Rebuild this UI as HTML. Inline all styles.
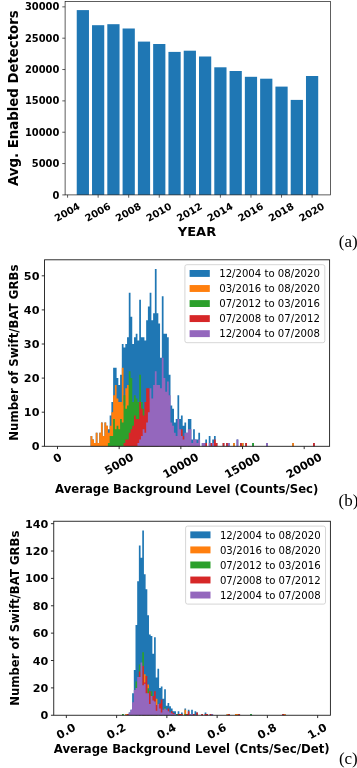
<!DOCTYPE html>
<html><head><meta charset="utf-8"><title>Figure</title>
<style>html,body{margin:0;padding:0;background:#fff}svg{display:block}</style></head>
<body>
<svg width="357" height="768" viewBox="0 0 357 768">
<rect width="357" height="768" fill="#fff"/>
<rect x="76.74" y="10.1" width="12.23" height="184.8" fill="#1f77b4"/>
<rect x="92.02" y="25.2" width="12.23" height="169.7" fill="#1f77b4"/>
<rect x="107.31" y="24.2" width="12.23" height="170.7" fill="#1f77b4"/>
<rect x="122.59" y="28.5" width="12.23" height="166.4" fill="#1f77b4"/>
<rect x="137.87" y="41.6" width="12.23" height="153.3" fill="#1f77b4"/>
<rect x="153.15" y="44" width="12.23" height="150.9" fill="#1f77b4"/>
<rect x="168.44" y="51.9" width="12.23" height="143" fill="#1f77b4"/>
<rect x="183.72" y="50.7" width="12.23" height="144.2" fill="#1f77b4"/>
<rect x="199" y="56.5" width="12.23" height="138.4" fill="#1f77b4"/>
<rect x="214.29" y="67.3" width="12.23" height="127.6" fill="#1f77b4"/>
<rect x="229.57" y="71" width="12.23" height="123.9" fill="#1f77b4"/>
<rect x="244.85" y="76.8" width="12.23" height="118.1" fill="#1f77b4"/>
<rect x="260.14" y="78.7" width="12.23" height="116.2" fill="#1f77b4"/>
<rect x="275.42" y="86.6" width="12.23" height="108.3" fill="#1f77b4"/>
<rect x="290.7" y="99.9" width="12.23" height="95" fill="#1f77b4"/>
<rect x="305.98" y="76" width="12.23" height="118.9" fill="#1f77b4"/>
<rect x="65.1" y="1.4" width="265.3" height="193.5" fill="none" stroke="#1a1a1a" stroke-width="0.7"/>
<line x1="62.3" y1="194.9" x2="65.1" y2="194.9" stroke="#1a1a1a" stroke-width="0.7"/>
<text x="59.3" y="198.51" text-anchor="end" font-family="DejaVu Sans, Liberation Sans, sans-serif" font-weight="bold" font-size="9.9">0</text>
<line x1="62.3" y1="163.56" x2="65.1" y2="163.56" stroke="#1a1a1a" stroke-width="0.7"/>
<text x="59.3" y="167.17" text-anchor="end" font-family="DejaVu Sans, Liberation Sans, sans-serif" font-weight="bold" font-size="9.9">5000</text>
<line x1="62.3" y1="132.22" x2="65.1" y2="132.22" stroke="#1a1a1a" stroke-width="0.7"/>
<text x="59.3" y="135.83" text-anchor="end" font-family="DejaVu Sans, Liberation Sans, sans-serif" font-weight="bold" font-size="9.9">10000</text>
<line x1="62.3" y1="100.88" x2="65.1" y2="100.88" stroke="#1a1a1a" stroke-width="0.7"/>
<text x="59.3" y="104.48" text-anchor="end" font-family="DejaVu Sans, Liberation Sans, sans-serif" font-weight="bold" font-size="9.9">15000</text>
<line x1="62.3" y1="69.53" x2="65.1" y2="69.53" stroke="#1a1a1a" stroke-width="0.7"/>
<text x="59.3" y="73.14" text-anchor="end" font-family="DejaVu Sans, Liberation Sans, sans-serif" font-weight="bold" font-size="9.9">20000</text>
<line x1="62.3" y1="38.19" x2="65.1" y2="38.19" stroke="#1a1a1a" stroke-width="0.7"/>
<text x="59.3" y="41.8" text-anchor="end" font-family="DejaVu Sans, Liberation Sans, sans-serif" font-weight="bold" font-size="9.9">25000</text>
<line x1="62.3" y1="6.85" x2="65.1" y2="6.85" stroke="#1a1a1a" stroke-width="0.7"/>
<text x="59.3" y="10.46" text-anchor="end" font-family="DejaVu Sans, Liberation Sans, sans-serif" font-weight="bold" font-size="9.9">30000</text>
<line x1="67.57" y1="194.9" x2="67.57" y2="197.7" stroke="#1a1a1a" stroke-width="0.7"/>
<text transform="translate(67.07,212.02) rotate(-30)" x="0" y="3.61" text-anchor="middle" font-family="DejaVu Sans, Liberation Sans, sans-serif" font-weight="bold" font-size="9.9">2004</text>
<line x1="98.14" y1="194.9" x2="98.14" y2="197.7" stroke="#1a1a1a" stroke-width="0.7"/>
<text transform="translate(97.64,212.02) rotate(-30)" x="0" y="3.61" text-anchor="middle" font-family="DejaVu Sans, Liberation Sans, sans-serif" font-weight="bold" font-size="9.9">2006</text>
<line x1="128.7" y1="194.9" x2="128.7" y2="197.7" stroke="#1a1a1a" stroke-width="0.7"/>
<text transform="translate(128.2,212.02) rotate(-30)" x="0" y="3.61" text-anchor="middle" font-family="DejaVu Sans, Liberation Sans, sans-serif" font-weight="bold" font-size="9.9">2008</text>
<line x1="159.27" y1="194.9" x2="159.27" y2="197.7" stroke="#1a1a1a" stroke-width="0.7"/>
<text transform="translate(158.77,212.02) rotate(-30)" x="0" y="3.61" text-anchor="middle" font-family="DejaVu Sans, Liberation Sans, sans-serif" font-weight="bold" font-size="9.9">2010</text>
<line x1="189.83" y1="194.9" x2="189.83" y2="197.7" stroke="#1a1a1a" stroke-width="0.7"/>
<text transform="translate(189.33,212.02) rotate(-30)" x="0" y="3.61" text-anchor="middle" font-family="DejaVu Sans, Liberation Sans, sans-serif" font-weight="bold" font-size="9.9">2012</text>
<line x1="220.4" y1="194.9" x2="220.4" y2="197.7" stroke="#1a1a1a" stroke-width="0.7"/>
<text transform="translate(219.9,212.02) rotate(-30)" x="0" y="3.61" text-anchor="middle" font-family="DejaVu Sans, Liberation Sans, sans-serif" font-weight="bold" font-size="9.9">2014</text>
<line x1="250.97" y1="194.9" x2="250.97" y2="197.7" stroke="#1a1a1a" stroke-width="0.7"/>
<text transform="translate(250.47,212.02) rotate(-30)" x="0" y="3.61" text-anchor="middle" font-family="DejaVu Sans, Liberation Sans, sans-serif" font-weight="bold" font-size="9.9">2016</text>
<line x1="281.53" y1="194.9" x2="281.53" y2="197.7" stroke="#1a1a1a" stroke-width="0.7"/>
<text transform="translate(281.03,212.02) rotate(-30)" x="0" y="3.61" text-anchor="middle" font-family="DejaVu Sans, Liberation Sans, sans-serif" font-weight="bold" font-size="9.9">2018</text>
<line x1="312.1" y1="194.9" x2="312.1" y2="197.7" stroke="#1a1a1a" stroke-width="0.7"/>
<text transform="translate(311.6,212.02) rotate(-30)" x="0" y="3.61" text-anchor="middle" font-family="DejaVu Sans, Liberation Sans, sans-serif" font-weight="bold" font-size="9.9">2020</text>
<text transform="translate(18,98.15) rotate(-90)" text-anchor="middle" font-family="DejaVu Sans, Liberation Sans, sans-serif" font-weight="bold" font-size="13.3">Avg. Enabled Detectors</text>
<text x="197" y="236.3" text-anchor="middle" font-family="DejaVu Sans, Liberation Sans, sans-serif" font-weight="bold" font-size="13">YEAR</text>
<text x="338.8" y="246.5" font-family="Liberation Serif, DejaVu Serif, serif" font-size="17">(a)</text>
<path d="M90.53,446.3L90.53,436.07L92.27,436.07L92.27,439.48L94.01,439.48L94.01,442.89L95.75,442.89L95.75,432.66L97.49,432.66L97.49,442.89L99.22,442.89L99.22,432.66L100.96,432.66L100.96,422.43L102.7,422.43L102.7,436.07L104.44,436.07L104.44,422.43L106.18,422.43L106.18,425.84L107.92,425.84L107.92,429.25L109.66,429.25L109.66,415.61L111.39,415.61L111.39,401.97L113.13,401.97L113.13,367.87L114.87,367.87L114.87,367.87L116.61,367.87L116.61,378.1L118.35,378.1L118.35,384.92L120.09,384.92L120.09,374.69L121.82,374.69L121.82,344L123.56,344L123.56,347.41L125.3,347.41L125.3,344L127.04,344L127.04,337.18L128.78,337.18L128.78,292.85L130.52,292.85L130.52,316.72L132.26,316.72L132.26,344L133.99,344L133.99,337.18L135.73,337.18L135.73,333.77L137.47,333.77L137.47,340.59L139.21,340.59L139.21,299.67L140.95,299.67L140.95,337.18L142.69,337.18L142.69,337.18L144.43,337.18L144.43,340.59L146.16,340.59L146.16,320.13L147.9,320.13L147.9,306.49L149.64,306.49L149.64,292.85L151.38,292.85L151.38,320.13L153.12,320.13L153.12,313.31L154.86,313.31L154.86,268.98L156.59,268.98L156.59,313.31L158.33,313.31L158.33,323.54L160.07,323.54L160.07,357.64L161.81,357.64L161.81,296.26L163.55,296.26L163.55,333.77L165.29,333.77L165.29,333.77L167.03,333.77L167.03,337.18L168.76,337.18L168.76,374.69L170.5,374.69L170.5,405.38L172.24,405.38L172.24,408.79L173.98,408.79L173.98,422.43L175.72,422.43L175.72,419.02L177.46,419.02L177.46,395.15L179.19,395.15L179.19,419.02L180.93,419.02L180.93,415.61L182.67,415.61L182.67,425.84L184.41,425.84L184.41,422.43L186.15,422.43L186.15,432.66L187.89,432.66L187.89,419.02L189.63,419.02L189.63,419.02L191.36,419.02L191.36,439.48L193.1,439.48L193.1,429.25L194.84,429.25L194.84,439.48L196.58,439.48L196.58,439.48L198.32,439.48L198.32,432.66L200.06,432.66L200.06,446.3ZM201.8,446.3L201.8,442.89L203.53,442.89L203.53,442.89L205.27,442.89L205.27,439.48L207.01,439.48L207.01,446.3ZM208.75,446.3L208.75,436.07L210.49,436.07L210.49,442.89L212.23,442.89L212.23,439.48L213.97,439.48L213.97,436.07L215.7,436.07L215.7,442.89L217.44,442.89L217.44,446.3ZM222.66,446.3L222.66,442.89L224.4,442.89L224.4,446.3ZM226.13,446.3L226.13,442.89L227.87,442.89L227.87,442.89L229.61,442.89L229.61,446.3ZM233.09,446.3L233.09,442.89L234.83,442.89L234.83,446.3ZM236.57,446.3L236.57,439.48L238.3,439.48L238.3,446.3ZM240.04,446.3L240.04,442.89L241.78,442.89L241.78,442.89L243.52,442.89L243.52,446.3ZM245.26,446.3L245.26,442.89L247,442.89L247,446.3ZM252.21,446.3L252.21,442.89L253.95,442.89L253.95,446.3ZM266.12,446.3L266.12,442.89L267.86,442.89L267.86,446.3ZM292.2,446.3L292.2,442.89L293.94,442.89L293.94,446.3ZM313.06,446.3L313.06,442.89L314.8,442.89L314.8,446.3Z" fill="#1f77b4"/>
<path d="M90.53,446.3L90.53,436.07L92.27,436.07L92.27,439.48L94.01,439.48L94.01,442.89L95.75,442.89L95.75,432.66L97.49,432.66L97.49,442.89L99.22,442.89L99.22,432.66L100.96,432.66L100.96,422.43L102.7,422.43L102.7,436.07L104.44,436.07L104.44,422.43L106.18,422.43L106.18,425.84L107.92,425.84L107.92,432.66L109.66,432.66L109.66,425.84L111.39,425.84L111.39,412.2L113.13,412.2L113.13,395.15L114.87,395.15L114.87,384.92L116.61,384.92L116.61,398.56L118.35,398.56L118.35,401.97L120.09,401.97L120.09,401.97L121.82,401.97L121.82,367.87L123.56,367.87L123.56,405.38L125.3,405.38L125.3,388.33L127.04,388.33L127.04,384.92L128.78,384.92L128.78,412.2L130.52,412.2L130.52,419.02L132.26,419.02L132.26,425.84L133.99,425.84L133.99,429.25L135.73,429.25L135.73,436.07L137.47,436.07L137.47,436.07L139.21,436.07L139.21,439.48L140.95,439.48L140.95,442.89L142.69,442.89L142.69,442.89L144.43,442.89L144.43,442.89L146.16,442.89L146.16,446.3ZM233.09,446.3L233.09,442.89L234.83,442.89L234.83,446.3ZM241.78,446.3L241.78,442.89L243.52,442.89L243.52,446.3ZM292.2,446.3L292.2,442.89L293.94,442.89L293.94,446.3Z" fill="#ff7f0e"/>
<path d="M107.92,446.3L107.92,442.89L109.66,442.89L109.66,436.07L111.39,436.07L111.39,436.07L113.13,436.07L113.13,419.02L114.87,419.02L114.87,429.25L116.61,429.25L116.61,425.84L118.35,425.84L118.35,429.25L120.09,429.25L120.09,419.02L121.82,419.02L121.82,422.43L123.56,422.43L123.56,395.15L125.3,395.15L125.3,408.79L127.04,408.79L127.04,405.38L128.78,405.38L128.78,371.28L130.52,371.28L130.52,378.1L132.26,378.1L132.26,401.97L133.99,401.97L133.99,395.15L135.73,395.15L135.73,398.56L137.47,398.56L137.47,401.97L139.21,401.97L139.21,374.69L140.95,374.69L140.95,401.97L142.69,401.97L142.69,408.79L144.43,408.79L144.43,415.61L146.16,415.61L146.16,422.43L147.9,422.43L147.9,429.25L149.64,429.25L149.64,432.66L151.38,432.66L151.38,436.07L153.12,436.07L153.12,439.48L154.86,439.48L154.86,442.89L156.59,442.89L156.59,442.89L158.33,442.89L158.33,446.3ZM252.21,446.3L252.21,442.89L253.95,442.89L253.95,446.3Z" fill="#2ca02c"/>
<path d="M123.56,446.3L123.56,442.89L125.3,442.89L125.3,439.48L127.04,439.48L127.04,439.48L128.78,439.48L128.78,432.66L130.52,432.66L130.52,429.25L132.26,429.25L132.26,425.84L133.99,425.84L133.99,415.61L135.73,415.61L135.73,419.02L137.47,419.02L137.47,419.02L139.21,419.02L139.21,401.97L140.95,401.97L140.95,408.79L142.69,408.79L142.69,415.61L144.43,415.61L144.43,401.97L146.16,401.97L146.16,388.33L147.9,388.33L147.9,388.33L149.64,388.33L149.64,398.56L151.38,398.56L151.38,405.38L153.12,405.38L153.12,401.97L154.86,401.97L154.86,405.38L156.59,405.38L156.59,412.2L158.33,412.2L158.33,415.61L160.07,415.61L160.07,422.43L161.81,422.43L161.81,419.02L163.55,419.02L163.55,425.84L165.29,425.84L165.29,425.84L167.03,425.84L167.03,429.25L168.76,429.25L168.76,436.07L170.5,436.07L170.5,436.07L172.24,436.07L172.24,439.48L173.98,439.48L173.98,439.48L175.72,439.48L175.72,439.48L177.46,439.48L177.46,436.07L179.19,436.07L179.19,439.48L180.93,439.48L180.93,429.25L182.67,429.25L182.67,436.07L184.41,436.07L184.41,439.48L186.15,439.48L186.15,446.3ZM187.89,446.3L187.89,442.89L189.63,442.89L189.63,446.3ZM205.27,446.3L205.27,442.89L207.01,442.89L207.01,446.3ZM210.49,446.3L210.49,442.89L212.23,442.89L212.23,446.3ZM213.97,446.3L213.97,439.48L215.7,439.48L215.7,442.89L217.44,442.89L217.44,446.3ZM222.66,446.3L222.66,442.89L224.4,442.89L224.4,446.3ZM226.13,446.3L226.13,442.89L227.87,442.89L227.87,446.3ZM240.04,446.3L240.04,442.89L241.78,442.89L241.78,446.3ZM245.26,446.3L245.26,442.89L247,442.89L247,446.3ZM313.06,446.3L313.06,442.89L314.8,442.89L314.8,446.3Z" fill="#d62728"/>
<path d="M137.47,446.3L137.47,442.89L139.21,442.89L139.21,439.48L140.95,439.48L140.95,436.07L142.69,436.07L142.69,429.25L144.43,429.25L144.43,432.66L146.16,432.66L146.16,422.43L147.9,422.43L147.9,412.2L149.64,412.2L149.64,388.33L151.38,388.33L151.38,398.56L153.12,398.56L153.12,384.92L154.86,384.92L154.86,371.28L156.59,371.28L156.59,384.92L158.33,384.92L158.33,384.92L160.07,384.92L160.07,388.33L161.81,388.33L161.81,357.64L163.55,357.64L163.55,378.1L165.29,378.1L165.29,391.74L167.03,391.74L167.03,381.51L168.76,381.51L168.76,395.15L170.5,395.15L170.5,422.43L172.24,422.43L172.24,425.84L173.98,425.84L173.98,432.66L175.72,432.66L175.72,436.07L177.46,436.07L177.46,419.02L179.19,419.02L179.19,429.25L180.93,429.25L180.93,436.07L182.67,436.07L182.67,439.48L184.41,439.48L184.41,432.66L186.15,432.66L186.15,432.66L187.89,432.66L187.89,429.25L189.63,429.25L189.63,429.25L191.36,429.25L191.36,442.89L193.1,442.89L193.1,439.48L194.84,439.48L194.84,439.48L196.58,439.48L196.58,442.89L198.32,442.89L198.32,439.48L200.06,439.48L200.06,446.3ZM201.8,446.3L201.8,442.89L203.53,442.89L203.53,442.89L205.27,442.89L205.27,446.3ZM208.75,446.3L208.75,442.89L210.49,442.89L210.49,446.3ZM212.23,446.3L212.23,442.89L213.97,442.89L213.97,446.3ZM227.87,446.3L227.87,442.89L229.61,442.89L229.61,446.3ZM236.57,446.3L236.57,439.48L238.3,439.48L238.3,446.3ZM266.12,446.3L266.12,442.89L267.86,442.89L267.86,446.3Z" fill="#9467bd"/>
<rect x="44.55" y="259.8" width="285.05" height="186.5" fill="none" stroke="#1a1a1a" stroke-width="0.9"/>
<line x1="41.75" y1="446.3" x2="44.55" y2="446.3" stroke="#1a1a1a" stroke-width="0.9"/>
<text x="39.45" y="450.38" text-anchor="end" font-family="DejaVu Sans, Liberation Sans, sans-serif" font-weight="bold" font-size="11.2">0</text>
<line x1="41.75" y1="412.2" x2="44.55" y2="412.2" stroke="#1a1a1a" stroke-width="0.9"/>
<text x="39.45" y="416.28" text-anchor="end" font-family="DejaVu Sans, Liberation Sans, sans-serif" font-weight="bold" font-size="11.2">10</text>
<line x1="41.75" y1="378.1" x2="44.55" y2="378.1" stroke="#1a1a1a" stroke-width="0.9"/>
<text x="39.45" y="382.18" text-anchor="end" font-family="DejaVu Sans, Liberation Sans, sans-serif" font-weight="bold" font-size="11.2">20</text>
<line x1="41.75" y1="344" x2="44.55" y2="344" stroke="#1a1a1a" stroke-width="0.9"/>
<text x="39.45" y="348.08" text-anchor="end" font-family="DejaVu Sans, Liberation Sans, sans-serif" font-weight="bold" font-size="11.2">30</text>
<line x1="41.75" y1="309.9" x2="44.55" y2="309.9" stroke="#1a1a1a" stroke-width="0.9"/>
<text x="39.45" y="313.98" text-anchor="end" font-family="DejaVu Sans, Liberation Sans, sans-serif" font-weight="bold" font-size="11.2">40</text>
<line x1="41.75" y1="275.8" x2="44.55" y2="275.8" stroke="#1a1a1a" stroke-width="0.9"/>
<text x="39.45" y="279.88" text-anchor="end" font-family="DejaVu Sans, Liberation Sans, sans-serif" font-weight="bold" font-size="11.2">50</text>
<line x1="57.5" y1="446.3" x2="57.5" y2="449.1" stroke="#1a1a1a" stroke-width="0.9"/>
<text transform="translate(57.2,457.78) rotate(-30)" x="0" y="4.08" text-anchor="middle" font-family="DejaVu Sans, Liberation Sans, sans-serif" font-weight="bold" font-size="11.2">0</text>
<line x1="119.17" y1="446.3" x2="119.17" y2="449.1" stroke="#1a1a1a" stroke-width="0.9"/>
<text transform="translate(118.88,463.63) rotate(-30)" x="0" y="4.08" text-anchor="middle" font-family="DejaVu Sans, Liberation Sans, sans-serif" font-weight="bold" font-size="11.2">5000</text>
<line x1="180.85" y1="446.3" x2="180.85" y2="449.1" stroke="#1a1a1a" stroke-width="0.9"/>
<text transform="translate(180.55,465.58) rotate(-30)" x="0" y="4.08" text-anchor="middle" font-family="DejaVu Sans, Liberation Sans, sans-serif" font-weight="bold" font-size="11.2">10000</text>
<line x1="242.52" y1="446.3" x2="242.52" y2="449.1" stroke="#1a1a1a" stroke-width="0.9"/>
<text transform="translate(242.22,465.58) rotate(-30)" x="0" y="4.08" text-anchor="middle" font-family="DejaVu Sans, Liberation Sans, sans-serif" font-weight="bold" font-size="11.2">15000</text>
<line x1="304.2" y1="446.3" x2="304.2" y2="449.1" stroke="#1a1a1a" stroke-width="0.9"/>
<text transform="translate(303.9,465.58) rotate(-30)" x="0" y="4.08" text-anchor="middle" font-family="DejaVu Sans, Liberation Sans, sans-serif" font-weight="bold" font-size="11.2">20000</text>
<text transform="translate(18.2,352.7) rotate(-90)" text-anchor="middle" font-family="DejaVu Sans, Liberation Sans, sans-serif" font-weight="bold" font-size="11.75">Number of Swift/BAT GRBs</text>
<text x="186.7" y="493.4" text-anchor="middle" font-family="DejaVu Sans, Liberation Sans, sans-serif" font-weight="bold" font-size="11.66">Average Background Level (Counts/Sec)</text>
<rect x="184.9" y="264.7" width="139.9" height="78.0" rx="2" ry="2" fill="#fff" fill-opacity="0.8" stroke="#cccccc" stroke-width="0.8"/>
<rect x="189.6" y="270" width="20.2" height="6.9" fill="#1f77b4"/>
<text x="219.2" y="277.1" font-family="DejaVu Sans, Liberation Sans, sans-serif" font-size="10.14">12/2004 to 08/2020</text>
<rect x="189.6" y="285.05" width="20.2" height="6.9" fill="#ff7f0e"/>
<text x="219.2" y="292.15" font-family="DejaVu Sans, Liberation Sans, sans-serif" font-size="10.14">03/2016 to 08/2020</text>
<rect x="189.6" y="300.1" width="20.2" height="6.9" fill="#2ca02c"/>
<text x="219.2" y="307.2" font-family="DejaVu Sans, Liberation Sans, sans-serif" font-size="10.14">07/2012 to 03/2016</text>
<rect x="189.6" y="315.15" width="20.2" height="6.9" fill="#d62728"/>
<text x="219.2" y="322.25" font-family="DejaVu Sans, Liberation Sans, sans-serif" font-size="10.14">07/2008 to 07/2012</text>
<rect x="189.6" y="330.2" width="20.2" height="6.9" fill="#9467bd"/>
<text x="219.2" y="337.3" font-family="DejaVu Sans, Liberation Sans, sans-serif" font-size="10.14">12/2004 to 07/2008</text>
<text x="338.5" y="505.7" font-family="Liberation Serif, DejaVu Serif, serif" font-size="17">(b)</text>
<path d="M122.01,715.25L122.01,713.88L123.69,713.88L123.69,715.25ZM125.38,715.25L125.38,713.88L127.07,713.88L127.07,713.88L128.75,713.88L128.75,712.51L130.44,712.51L130.44,709.78L132.13,709.78L132.13,693.35L133.81,693.35L133.81,670.09L135.5,670.09L135.5,624.93L137.19,624.93L137.19,581.14L138.87,581.14L138.87,545.56L140.56,545.56L140.56,557.87L142.25,557.87L142.25,530.5L143.93,530.5L143.93,574.29L145.62,574.29L145.62,589.35L147.31,589.35L147.31,615.35L148.99,615.35L148.99,634.51L150.68,634.51L150.68,635.88L152.37,635.88L152.37,653.67L154.05,653.67L154.05,637.25L155.74,637.25L155.74,677.62L157.43,677.62L157.43,668.72L159.11,668.72L159.11,687.88L160.8,687.88L160.8,686.51L162.49,686.51L162.49,698.83L164.17,698.83L164.17,689.25L165.86,689.25L165.86,705.67L167.55,705.67L167.55,702.93L169.23,702.93L169.23,706.22L170.92,706.22L170.92,708.41L172.61,708.41L172.61,711.14L174.29,711.14L174.29,711.14L175.98,711.14L175.98,713.88L177.67,713.88L177.67,711.14L179.35,711.14L179.35,713.88L181.04,713.88L181.04,712.51L182.73,712.51L182.73,715.25ZM184.41,715.25L184.41,708.41L186.1,708.41L186.1,713.88L187.79,713.88L187.79,709.78L189.47,709.78L189.47,713.88L191.16,713.88L191.16,709.78L192.84,709.78L192.84,713.88L194.53,713.88L194.53,711.14L196.22,711.14L196.22,712.51L197.9,712.51L197.9,715.25ZM201.28,715.25L201.28,713.88L202.96,713.88L202.96,715.25ZM204.65,715.25L204.65,712.51L206.34,712.51L206.34,713.88L208.02,713.88L208.02,715.25ZM209.71,715.25L209.71,713.88L211.4,713.88L211.4,713.88L213.08,713.88L213.08,715.25ZM226.58,715.25L226.58,713.88L228.26,713.88L228.26,713.88L229.95,713.88L229.95,715.25ZM235.01,715.25L235.01,713.88L236.7,713.88L236.7,713.88L238.38,713.88L238.38,713.88L240.07,713.88L240.07,715.25ZM250.19,715.25L250.19,713.88L251.88,713.88L251.88,715.25ZM282.23,715.25L282.23,713.88L283.92,713.88L283.92,713.88L285.61,713.88L285.61,715.25Z" fill="#1f77b4"/>
<path d="M125.38,715.25L125.38,713.88L127.07,713.88L127.07,715.25ZM143.93,715.25L143.93,674.2L145.62,674.2L145.62,715.25ZM147.31,715.25L147.31,684.46L148.99,684.46L148.99,715.25ZM155.74,715.25L155.74,698.83L157.43,698.83L157.43,715.25ZM184.41,715.25L184.41,709.78L186.1,709.78L186.1,715.25ZM226.58,715.25L226.58,713.88L228.26,713.88L228.26,715.25ZM235.01,715.25L235.01,713.88L236.7,713.88L236.7,713.88L238.38,713.88L238.38,715.25ZM283.92,715.25L283.92,713.88L285.61,713.88L285.61,715.25Z" fill="#ff7f0e"/>
<path d="M122.01,715.25L122.01,713.88L123.69,713.88L123.69,715.25ZM135.5,715.25L135.5,681.58L137.19,681.58L137.19,715.25ZM138.87,715.25L138.87,664.62L140.56,664.62L140.56,715.25ZM142.25,715.25L142.25,652.3L143.93,652.3L143.93,715.25ZM147.31,715.25L147.31,688.29L148.99,688.29L148.99,715.25ZM150.68,715.25L150.68,691.16L152.37,691.16L152.37,715.25ZM164.17,715.25L164.17,707.31L165.86,707.31L165.86,715.25ZM175.98,715.25L175.98,713.88L177.67,713.88L177.67,715.25ZM184.41,715.25L184.41,713.88L186.1,713.88L186.1,715.25ZM250.19,715.25L250.19,713.88L251.88,713.88L251.88,715.25Z" fill="#2ca02c"/>
<path d="M127.07,715.25L127.07,713.88L128.75,713.88L128.75,715.25ZM138.87,715.25L138.87,671.46L140.56,671.46L140.56,715.25ZM142.25,715.25L142.25,665.98L143.93,665.98L143.93,682.41L145.62,682.41L145.62,675.97L147.31,675.97L147.31,715.25ZM148.99,715.25L148.99,691.16L150.68,691.16L150.68,715.25ZM152.37,715.25L152.37,696.09L154.05,696.09L154.05,691.16L155.74,691.16L155.74,704.99L157.43,704.99L157.43,715.25ZM159.11,715.25L159.11,703.48L160.8,703.48L160.8,699.51L162.49,699.51L162.49,715.25ZM167.55,715.25L167.55,708.41L169.23,708.41L169.23,715.25ZM170.92,715.25L170.92,711.14L172.61,711.14L172.61,712.92L174.29,712.92L174.29,715.25ZM177.67,715.25L177.67,713.88L179.35,713.88L179.35,713.88L181.04,713.88L181.04,713.88L182.73,713.88L182.73,715.25ZM186.1,715.25L186.1,713.88L187.79,713.88L187.79,711.14L189.47,711.14L189.47,715.25ZM192.84,715.25L192.84,713.88L194.53,713.88L194.53,715.25ZM196.22,715.25L196.22,712.51L197.9,712.51L197.9,715.25ZM201.28,715.25L201.28,713.88L202.96,713.88L202.96,715.25ZM204.65,715.25L204.65,713.88L206.34,713.88L206.34,713.88L208.02,713.88L208.02,715.25ZM209.71,715.25L209.71,713.88L211.4,713.88L211.4,715.25ZM228.26,715.25L228.26,713.88L229.95,713.88L229.95,715.25ZM238.38,715.25L238.38,713.88L240.07,713.88L240.07,715.25ZM282.23,715.25L282.23,713.88L283.92,713.88L283.92,715.25Z" fill="#d62728"/>
<path d="M128.75,715.25L128.75,712.51L130.44,712.51L130.44,709.78L132.13,709.78L132.13,702.25L133.81,702.25L133.81,689.93L135.5,689.93L135.5,687.88L137.19,687.88L137.19,676.93L138.87,676.93L138.87,676.93L140.56,676.93L140.56,662.56L142.25,662.56L142.25,685.14L143.93,685.14L143.93,683.77L145.62,683.77L145.62,693.35L147.31,693.35L147.31,693.35L148.99,693.35L148.99,704.03L150.68,704.03L150.68,696.09L152.37,696.09L152.37,700.61L154.05,700.61L154.05,701.57L155.74,701.57L155.74,710.73L157.43,710.73L157.43,704.03L159.11,704.03L159.11,708.41L160.8,708.41L160.8,712.51L162.49,712.51L162.49,709.78L164.17,709.78L164.17,708.41L165.86,708.41L165.86,709.78L167.55,709.78L167.55,711.14L169.23,711.14L169.23,712.51L170.92,712.51L170.92,713.2L172.61,713.2L172.61,713.88L174.29,713.88L174.29,713.88L175.98,713.88L175.98,715.25ZM189.47,715.25L189.47,713.88L191.16,713.88L191.16,713.88L192.84,713.88L192.84,715.25ZM211.4,715.25L211.4,713.88L213.08,713.88L213.08,715.25Z" fill="#9467bd"/>
<rect x="53.75" y="521.25" width="276.65" height="194" fill="none" stroke="#1a1a1a" stroke-width="0.9"/>
<line x1="50.95" y1="715.25" x2="53.75" y2="715.25" stroke="#1a1a1a" stroke-width="0.9"/>
<text x="48.35" y="719.33" text-anchor="end" font-family="DejaVu Sans, Liberation Sans, sans-serif" font-weight="bold" font-size="11.2">0</text>
<line x1="50.95" y1="687.88" x2="53.75" y2="687.88" stroke="#1a1a1a" stroke-width="0.9"/>
<text x="48.35" y="691.96" text-anchor="end" font-family="DejaVu Sans, Liberation Sans, sans-serif" font-weight="bold" font-size="11.2">20</text>
<line x1="50.95" y1="660.51" x2="53.75" y2="660.51" stroke="#1a1a1a" stroke-width="0.9"/>
<text x="48.35" y="664.59" text-anchor="end" font-family="DejaVu Sans, Liberation Sans, sans-serif" font-weight="bold" font-size="11.2">40</text>
<line x1="50.95" y1="633.14" x2="53.75" y2="633.14" stroke="#1a1a1a" stroke-width="0.9"/>
<text x="48.35" y="637.22" text-anchor="end" font-family="DejaVu Sans, Liberation Sans, sans-serif" font-weight="bold" font-size="11.2">60</text>
<line x1="50.95" y1="605.77" x2="53.75" y2="605.77" stroke="#1a1a1a" stroke-width="0.9"/>
<text x="48.35" y="609.85" text-anchor="end" font-family="DejaVu Sans, Liberation Sans, sans-serif" font-weight="bold" font-size="11.2">80</text>
<line x1="50.95" y1="578.4" x2="53.75" y2="578.4" stroke="#1a1a1a" stroke-width="0.9"/>
<text x="48.35" y="582.48" text-anchor="end" font-family="DejaVu Sans, Liberation Sans, sans-serif" font-weight="bold" font-size="11.2">100</text>
<line x1="50.95" y1="551.03" x2="53.75" y2="551.03" stroke="#1a1a1a" stroke-width="0.9"/>
<text x="48.35" y="555.11" text-anchor="end" font-family="DejaVu Sans, Liberation Sans, sans-serif" font-weight="bold" font-size="11.2">120</text>
<line x1="50.95" y1="523.66" x2="53.75" y2="523.66" stroke="#1a1a1a" stroke-width="0.9"/>
<text x="48.35" y="527.74" text-anchor="end" font-family="DejaVu Sans, Liberation Sans, sans-serif" font-weight="bold" font-size="11.2">140</text>
<line x1="66.35" y1="715.25" x2="66.35" y2="718.05" stroke="#1a1a1a" stroke-width="0.9"/>
<text transform="translate(65.85,731.1) rotate(-30)" x="0" y="4.08" text-anchor="middle" font-family="DejaVu Sans, Liberation Sans, sans-serif" font-weight="bold" font-size="11.2">0.0</text>
<line x1="116.61" y1="715.25" x2="116.61" y2="718.05" stroke="#1a1a1a" stroke-width="0.9"/>
<text transform="translate(116.11,731.1) rotate(-30)" x="0" y="4.08" text-anchor="middle" font-family="DejaVu Sans, Liberation Sans, sans-serif" font-weight="bold" font-size="11.2">0.2</text>
<line x1="166.87" y1="715.25" x2="166.87" y2="718.05" stroke="#1a1a1a" stroke-width="0.9"/>
<text transform="translate(166.37,731.1) rotate(-30)" x="0" y="4.08" text-anchor="middle" font-family="DejaVu Sans, Liberation Sans, sans-serif" font-weight="bold" font-size="11.2">0.4</text>
<line x1="217.13" y1="715.25" x2="217.13" y2="718.05" stroke="#1a1a1a" stroke-width="0.9"/>
<text transform="translate(216.63,731.1) rotate(-30)" x="0" y="4.08" text-anchor="middle" font-family="DejaVu Sans, Liberation Sans, sans-serif" font-weight="bold" font-size="11.2">0.6</text>
<line x1="267.39" y1="715.25" x2="267.39" y2="718.05" stroke="#1a1a1a" stroke-width="0.9"/>
<text transform="translate(266.89,731.1) rotate(-30)" x="0" y="4.08" text-anchor="middle" font-family="DejaVu Sans, Liberation Sans, sans-serif" font-weight="bold" font-size="11.2">0.8</text>
<line x1="317.65" y1="715.25" x2="317.65" y2="718.05" stroke="#1a1a1a" stroke-width="0.9"/>
<text transform="translate(317.15,731.1) rotate(-30)" x="0" y="4.08" text-anchor="middle" font-family="DejaVu Sans, Liberation Sans, sans-serif" font-weight="bold" font-size="11.2">1.0</text>
<text transform="translate(19.1,618.2) rotate(-90)" text-anchor="middle" font-family="DejaVu Sans, Liberation Sans, sans-serif" font-weight="bold" font-size="11.68">Number of Swift/BAT GRBs</text>
<text x="191.7" y="753.2" text-anchor="middle" font-family="DejaVu Sans, Liberation Sans, sans-serif" font-weight="bold" font-size="11.72">Average Background Level (Cnts/Sec/Det)</text>
<rect x="185.6" y="526.1" width="139.9" height="78.0" rx="2" ry="2" fill="#fff" fill-opacity="0.8" stroke="#cccccc" stroke-width="0.8"/>
<rect x="190.3" y="531.4" width="20.2" height="6.9" fill="#1f77b4"/>
<text x="219.9" y="538.5" font-family="DejaVu Sans, Liberation Sans, sans-serif" font-size="10.14">12/2004 to 08/2020</text>
<rect x="190.3" y="546.45" width="20.2" height="6.9" fill="#ff7f0e"/>
<text x="219.9" y="553.55" font-family="DejaVu Sans, Liberation Sans, sans-serif" font-size="10.14">03/2016 to 08/2020</text>
<rect x="190.3" y="561.5" width="20.2" height="6.9" fill="#2ca02c"/>
<text x="219.9" y="568.6" font-family="DejaVu Sans, Liberation Sans, sans-serif" font-size="10.14">07/2012 to 03/2016</text>
<rect x="190.3" y="576.55" width="20.2" height="6.9" fill="#d62728"/>
<text x="219.9" y="583.65" font-family="DejaVu Sans, Liberation Sans, sans-serif" font-size="10.14">07/2008 to 07/2012</text>
<rect x="190.3" y="591.6" width="20.2" height="6.9" fill="#9467bd"/>
<text x="219.9" y="598.7" font-family="DejaVu Sans, Liberation Sans, sans-serif" font-size="10.14">12/2004 to 07/2008</text>
<text x="338.9" y="764.3" font-family="Liberation Serif, DejaVu Serif, serif" font-size="17">(c)</text>
</svg>
</body></html>
